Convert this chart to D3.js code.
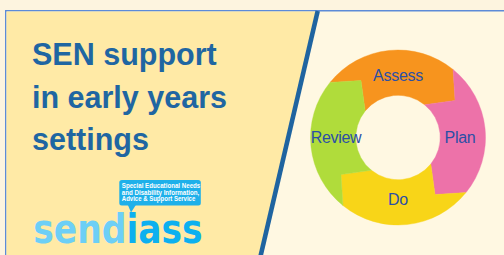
<!DOCTYPE html>
<html>
<head>
<meta charset="utf-8">
<script src="https://cdn.jsdelivr.net/npm/d3@7"></script>
<style>
  html, body { margin: 0; padding: 0; background: #fdf5e1; }
  svg { display: block; }
</style>
</head>
<body>
<div id="chart-area"></div>
<script>
// the cycle: four stages, equal share each
const stages = ["Assess", "Plan", "Do", "Review"]
const shares = [1, 1, 1, 1]
const stageColors = ["#f7941e", "#ed72a9", "#f8d518", "#b0dc3b"]

// texts of the left panel
const titleLines = ["SEN support", "in early years", "settings"]
const bubbleLines = ["Special Educational Needs", "and Disability Information,", "Advice & Support Service"]
const logoParts = ["send", "iass"]

const width = 504, height = 255
const deg = Math.PI / 180

let svg = d3.select("#chart-area").append("svg")
  .attr("width", width)
  .attr("height", height)

svg.append("rect")
  .attr("width", width).attr("height", height)
  .attr("fill", "#fdf4df")

// right panel + frame
svg.append("rect")
  .attr("x", 5.75).attr("y", 10.75)
  .attr("width", 520).attr("height", 260)
  .attr("fill", "#fff8e2")
  .attr("stroke", "#5d8bd8")
  .attr("stroke-width", 1.5)

// left panel, cut on the slant
const slantTop = [317.7, 11], slantBot = [260.8, 255]
const slantX = y => slantTop[0] + (y - slantTop[1]) * (slantBot[0] - slantTop[0]) / (slantBot[1] - slantTop[1])

svg.append("path")
  .attr("d", d3.line()([[6.5, 11.5], [slantX(11.5), 11.5], [slantX(262), 262], [6.5, 262]]))
  .attr("fill", "#ffeaa6")

svg.append("line")
  .attr("x1", slantX(11)).attr("y1", 11)
  .attr("x2", slantX(262)).attr("y2", 262)
  .attr("stroke", "#1f64a0")
  .attr("stroke-width", 4.6)

// title
svg.append("g")
  .selectAll("text")
  .data(titleLines)
  .enter()
  .append("text")
    .attr("x", 32)
    .attr("y", (d, i) => 65 + i * 42.5)
    .attr("font-family", "Liberation Sans, Arial, sans-serif")
    .attr("font-weight", "bold")
    .attr("font-size", 30.5)
    .attr("fill", "#1f66a2")
    .text(d => d)

// logo: speech bubble
let logo = svg.append("g")
logo.append("rect")
  .attr("x", 119.3).attr("y", 180)
  .attr("width", 81.5).attr("height", 25.5)
  .attr("rx", 2.5)
  .attr("fill", "#1eb0ea")
logo.append("path")
  .attr("d", d3.line()([[127.5, 204], [136.5, 204], [131, 212.5]]))
  .attr("fill", "#1eb0ea")
logo.selectAll("text.bubble")
  .data(bubbleLines)
  .enter()
  .append("text")
    .attr("class", "bubble")
    .attr("x", 121.8)
    .attr("y", (d, i) => 188 + i * 6.6)
    .attr("font-family", "Liberation Sans, Arial, sans-serif")
    .attr("font-weight", "bold")
    .attr("font-size", 6.5)
    .attr("fill", "#ffffff")
    .attr("textLength", (d, i) => [78.5, 77.5, 73.5][i])
    .attr("lengthAdjust", "spacingAndGlyphs")
    .text(d => d)

// logo word, one text with two colours, stretched up a little
let word = logo.append("text")
  .attr("transform", "translate(33.3,242.5) scale(1,1.2)")
  .attr("font-family", "DejaVu Sans, sans-serif")
  .attr("font-weight", "bold")
  .attr("font-size", 34.5)

word.selectAll("tspan")
  .data(logoParts)
  .enter()
  .append("tspan")
    .attr("fill", (d, i) => ["#6dcff6", "#0db0ef"][i])
    .text(d => d)

// the cycle ring
const cx = 398, cy = 137.5
const outerR = 87.5, innerR = 42.2, tipR = 68, lead = 18 * deg

const pie = d3.pie()
  .sort(null)
  .startAngle(-51 * deg)
  .endAngle(309 * deg)

const color = d3.scaleOrdinal().domain(stages).range(stageColors)

const pt = (r, a) => [r * Math.sin(a), -r * Math.cos(a)]

function arrowArc(d) {
  const a0 = d.startAngle, a1 = d.endAngle
  const p = d3.path()
  p.moveTo(...pt(outerR, a0))
  p.arc(0, 0, outerR, a0 - Math.PI / 2, a1 - Math.PI / 2, false)
  p.lineTo(...pt(tipR, a1 + lead))
  p.lineTo(...pt(innerR, a1))
  p.arc(0, 0, innerR, a1 - Math.PI / 2, a0 - Math.PI / 2, true)
  p.lineTo(...pt(tipR, a0 + lead))
  p.closePath()
  return p.toString()
}

const arcs = pie(shares).map((d, i) => Object.assign(d, { stage: stages[i] }))

let ring = svg.append("g")
  .attr("transform", `translate(${cx},${cy})`)

ring.selectAll("path")
  .data(arcs)
  .enter()
  .append("path")
    .attr("d", arrowArc)
    .attr("fill", d => color(d.stage))
    .attr("stroke", d => color(d.stage))
    .attr("stroke-width", 0.4)

ring.selectAll("text")
  .data(arcs)
  .enter()
  .append("text")
    .attr("x", d => pt(62, (d.startAngle + d.endAngle) / 2 + 6 * deg)[0])
    .attr("y", d => pt(62, (d.startAngle + d.endAngle) / 2 + 6 * deg)[1])
    .attr("text-anchor", "middle")
    .attr("dy", "0.36em")
    .attr("font-family", "Liberation Sans, Arial, sans-serif")
    .attr("font-size", 16)
    .attr("letter-spacing", -0.3)
    .attr("fill", "#2b4fa6")
    .text(d => d.stage)
</script>
</body>
</html>
